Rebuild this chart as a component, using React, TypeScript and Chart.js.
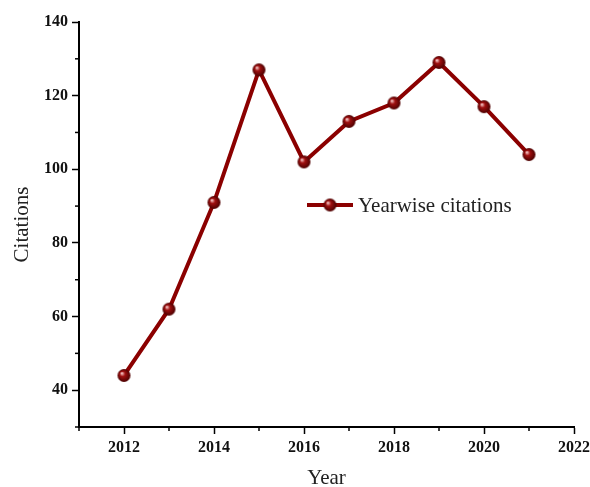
import { useEffect, useRef } from "react";
import { Chart, registerables } from "chart.js";

Chart.register(...registerables);

const years = [2012, 2013, 2014, 2015, 2016, 2017, 2018, 2019, 2020, 2021];
const citations = [44, 62, 91, 127, 102, 113, 118, 129, 117, 104];
const xMajorTicks = [2012, 2014, 2016, 2018, 2020, 2022];
const xMinorTicks = [2011, 2013, 2015, 2017, 2019, 2021];
const yMajorTicks = [40, 60, 80, 100, 120, 140];
const yMinorTicks = [30, 50, 70, 90, 110, 130];

const LINE = "#8b0000";
const SERIF = "'Liberation Serif', 'Times New Roman', serif";

const makeSphere = (r: number) => {
  const c = document.createElement("canvas");
  const s = r * 2 + 2;
  c.width = s;
  c.height = s;
  const ctx = c.getContext("2d")!;
  const g = ctx.createRadialGradient(s / 2 - r * 0.35, s / 2 - r * 0.35, 0.5, s / 2, s / 2, r);
  g.addColorStop(0, "#f4c4c4");
  g.addColorStop(0.35, "#a01010");
  g.addColorStop(1, "#4a0000");
  ctx.fillStyle = g;
  ctx.beginPath();
  ctx.arc(s / 2, s / 2, r, 0, Math.PI * 2);
  ctx.fill();
  return c;
};

const minorTicks = {
  id: "minorTicks",
  afterDraw(chart: Chart) {
    const ctx = chart.ctx;
    const x = chart.scales.x;
    const y = chart.scales.y;
    ctx.save();
    ctx.strokeStyle = "#000";
    ctx.lineWidth = 1.5;
    xMinorTicks.forEach((v) => {
      const px = x.getPixelForValue(v);
      ctx.beginPath();
      ctx.moveTo(px, y.bottom);
      ctx.lineTo(px, y.bottom + 4);
      ctx.stroke();
    });
    yMinorTicks.forEach((v) => {
      const py = y.getPixelForValue(v);
      ctx.beginPath();
      ctx.moveTo(x.left, py);
      ctx.lineTo(x.left - 4, py);
      ctx.stroke();
    });
    ctx.restore();
  },
};

const inlineLegend = (sphere: HTMLCanvasElement) => ({
  id: "inlineLegend",
  afterDraw(chart: Chart) {
    const ctx = chart.ctx;
    const ly = 205;
    ctx.save();
    ctx.strokeStyle = LINE;
    ctx.lineWidth = 4;
    ctx.beginPath();
    ctx.moveTo(307, ly);
    ctx.lineTo(353, ly);
    ctx.stroke();
    ctx.drawImage(sphere, 330 - sphere.width / 2, ly - sphere.height / 2);
    ctx.fillStyle = "#222";
    ctx.font = `21px ${SERIF}`;
    ctx.textBaseline = "middle";
    ctx.fillText("Yearwise citations", 358, ly + 1);
    ctx.restore();
  },
});

export default function App() {
  const canvasRef = useRef<HTMLCanvasElement | null>(null);
  const chartRef = useRef<Chart | null>(null);

  useEffect(() => {
    document.body.style.margin = "0";
    if (!canvasRef.current) return;
    const sphere = makeSphere(6.5);

    chartRef.current = new Chart(canvasRef.current, {
      type: "line",
      data: {
        datasets: [
          {
            label: "Yearwise citations",
            data: years.map((yr, i) => ({ x: yr, y: citations[i] })),
            borderColor: LINE,
            borderWidth: 4,
            pointStyle: sphere,
            pointRadius: 7,
            tension: 0,
          },
        ],
      },
      options: {
        responsive: true,
        maintainAspectRatio: false,
        animation: false,
        layout: { padding: { left: 6, right: 16, top: 22, bottom: 0 } },
        plugins: {
          legend: { display: false },
          tooltip: { enabled: false },
        },
        scales: {
          x: {
            type: "linear",
            min: 2011,
            max: 2022,
            afterBuildTicks: (s: any) => {
              s.ticks = xMajorTicks.map((v) => ({ value: v }));
            },
            afterFit: (s: any) => {
              s.height = 60;
              s.paddingRight = 0;
              s.paddingLeft = 0;
            },
            border: { color: "#000", width: 2 },
            grid: { drawOnChartArea: false, tickLength: 7, tickColor: "#000", tickWidth: 1.5 },
            ticks: {
              color: "#111",
              font: { family: SERIF, size: 16, weight: "bold" },
              padding: 4,
              callback: (v: any) => String(v),
            },
            title: {
              display: true,
              text: "Year",
              color: "#222",
              font: { family: SERIF, size: 21, lineHeight: 0.8 },
              padding: { top: 4, bottom: 0 },
            },
          },
          y: {
            type: "linear",
            min: 30,
            max: 140,
            afterBuildTicks: (s: any) => {
              s.ticks = yMajorTicks.map((v) => ({ value: v }));
            },
            afterFit: (s: any) => {
              s.width = 73;
            },
            border: { color: "#000", width: 2 },
            grid: { drawOnChartArea: false, tickLength: 7, tickColor: "#000", tickWidth: 1.5 },
            ticks: {
              color: "#111",
              font: { family: SERIF, size: 16, weight: "bold" },
              padding: 4,
            },
            title: {
              display: true,
              text: "Citations",
              color: "#222",
              font: { family: SERIF, size: 21 },
              padding: { bottom: 6 },
            },
          },
        },
      },
      plugins: [minorTicks, inlineLegend(sphere)],
    });

    return () => {
      chartRef.current?.destroy();
      chartRef.current = null;
    };
  }, []);

  return (
    <div style={{ width: 590, height: 487, position: "relative", background: "#fff" }}>
      <canvas ref={canvasRef}></canvas>
    </div>
  );
}
